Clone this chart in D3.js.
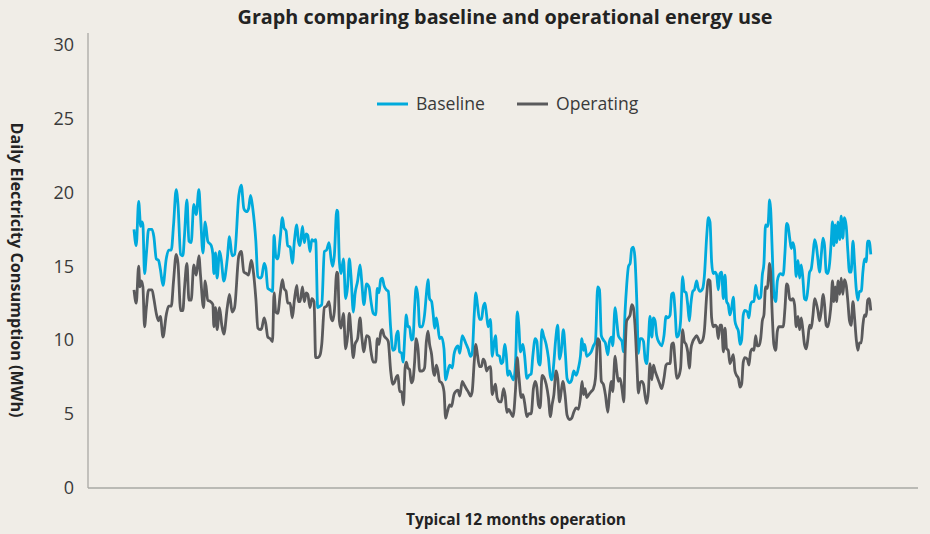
<!DOCTYPE html>
<html>
<head>
<meta charset="utf-8">
<script src="https://cdn.jsdelivr.net/npm/d3@7"></script>
<style>
	html, body { margin: 0; padding: 0; background: #f0ede7; }
	svg { display: block; font-family: "Open Sans", Lato, sans-serif; }
</style>
</head>
<body>
<div id="chart"></div>
<script>
// [day of the 12 months, MWh]
var baseline = [
	[0.0,17.5],[1.1,16.4],[2.3,19.4],[3.3,17.7],[3.9,18.0],[4.4,17.8],[5.2,14.5],[6.2,16.0],[7.2,17.5],[8.9,17.5],[9.8,17.0],[11.0,15.5],[12.1,15.4],[13.0,14.8],[14.3,13.7],[15.9,15.5],[17.1,16.1],[18.4,16.1],[19.5,17.8],[20.8,20.2],[21.7,19.2],[23.0,15.8],[24.1,15.7],[24.9,17.1],[26.1,19.5],[27.1,16.7],[28.2,16.6],[29.5,19.2],[30.7,18.5],[32.0,20.2],[32.8,18.5],[34.0,15.9],[35.1,18.0],[36.4,16.7],[38.1,16.4],[38.9,15.8],[39.4,14.5],[40.2,15.9],[41.0,14.2],[42.2,16.0],[43.0,15.5],[44.3,14.0],[46.0,15.5],[47.1,17.0],[48.4,15.7],[49.6,15.8],[51.7,19.8],[52.9,20.5],[54.2,18.9],[55.5,18.7],[56.5,18.9],[57.5,19.8],[58.6,18.9],
	[60.1,16.7],[61.1,14.3],[62.2,14.2],[63.0,14.3],[64.2,15.2],[65.0,14.9],[66.0,13.5],[67.1,13.4],[68.3,13.3],[69.1,17.1],[69.9,15.7],[70.9,15.5],[72.1,16.9],[73.2,18.3],[74.0,17.6],[75.0,17.4],[75.8,16.4],[77.0,16.3],[78.1,15.2],[79.1,16.7],[80.3,17.8],[81.1,16.7],[81.9,16.4],[83.1,17.7],[84.0,16.6],[84.9,17.2],[85.7,17.1],[86.8,16.0],[87.7,16.8],[88.8,16.7],[89.6,16.8],[90.6,12.2],[91.8,12.3],[92.6,12.4],[93.9,16.0],[95.0,16.1],[96.2,16.6],[97.2,15.5],[98.0,15.0],[98.8,15.7],[100.0,18.8],[100.5,18.7],[101.3,15.3],[102.1,14.5],[103.3,15.5],[104.4,12.8],[105.4,13.7],[106.2,15.5],[107.0,14.4],[108.2,11.9],[109.0,13.1],[110.3,14.0],[111.5,15.1],[112.3,14.0],[113.4,12.4],[114.7,13.8],[115.9,13.6],[116.9,12.6],[118.0,11.8],
	[119.2,11.7],[120.0,13.5],[120.8,13.2],[121.7,14.1],[122.5,14.2],[123.3,13.7],[124.5,13.4],[125.4,13.3],[126.6,10.8],[127.7,9.3],[128.7,9.4],[129.4,10.3],[130.2,10.6],[131.0,9.2],[132.0,9.1],[132.7,8.5],[133.7,10.6],[134.3,11.7],[135.1,10.9],[135.9,10.9],[136.8,10.0],[137.6,10.1],[138.4,12.2],[139.2,13.6],[140.1,12.8],[140.9,10.9],[142.2,10.9],[143.3,11.7],[144.2,13.1],[145.0,14.1],[145.8,12.8],[146.8,12.6],[147.6,11.7],[148.3,10.8],[149.1,11.5],[149.9,10.9],[150.7,10.1],[151.7,10.2],[152.9,9.4],[153.7,7.3],[154.5,7.7],[155.7,8.3],[157.0,8.1],[157.8,9.0],[158.6,9.4],[159.8,9.6],[160.7,9.1],[161.9,10.3],[162.7,10.1],[163.9,9.7],[164.8,9.4],[166.0,8.9],[166.8,9.1],[167.8,11.7],[168.6,13.2],[169.4,12.4],[170.4,11.4],[171.4,11.4],[172.2,12.2],[173.1,12.5],[173.9,11.7],[174.7,10.9],[175.8,11.4],[176.7,8.9],[177.5,9.7],[178.3,10.3],[179.1,9.0],
	[180.3,8.9],[181.1,8.4],[181.9,8.5],[182.8,9.7],[183.6,9.0],[184.4,7.6],[185.2,7.9],[186.0,7.6],[187.2,7.3],[188.2,8.5],[189.0,11.9],[189.8,11.0],[190.6,9.2],[191.8,9.7],[192.6,9.0],[193.8,7.4],[194.8,7.6],[195.9,7.7],[196.7,8.9],[197.9,10.1],[198.7,9.9],[199.5,8.5],[200.3,8.3],[201.2,10.7],[202.0,10.3],[203.3,9.7],[204.4,8.8],[205.3,7.6],[206.1,7.3],[207.1,8.5],[207.9,9.9],[209.0,11.0],[209.9,8.7],[210.7,9.2],[211.8,10.7],[212.8,9.0],[213.6,7.4],[214.8,7.1],[215.9,7.3],[216.9,7.9],[218.1,7.6],[219.2,8.1],[220.2,8.9],[220.9,10.1],[221.7,9.3],[222.3,9.7],[223.3,8.9],[224.3,9.0],[225.5,9.2],[226.6,9.6],[227.6,9.9],[228.7,13.6],[229.6,13.4],[230.5,10.3],[231.5,10.0],[232.5,9.8],[233.7,9.0],[234.5,9.9],[235.5,10.2],[236.1,9.6],[237.3,12.2],[238.1,11.3],[238.9,10.3],[239.7,10.1],[240.7,9.9],[241.4,9.2],
	[242.2,11.9],[243.0,13.7],[243.9,15.0],[244.7,15.2],[245.5,16.2],[246.3,16.3],[247.1,15.5],[248.0,12.6],[248.8,9.1],[249.6,10.1],[250.4,10.1],[251.3,9.9],[252.1,8.7],[252.9,8.4],[253.7,9.9],[254.5,11.6],[255.4,10.2],[256.2,11.5],[257.0,11.3],[257.8,10.3],[259.1,9.8],[260.3,9.6],[261.4,10.3],[262.4,11.6],[263.2,11.5],[264.4,11.7],[265.2,13.1],[266.0,13.2],[266.9,11.9],[267.7,10.2],[268.5,10.3],[269.6,11.3],[270.6,14.3],[271.4,13.3],[272.3,13.2],[273.1,12.4],[273.9,11.3],[274.7,12.5],[275.6,13.3],[276.4,13.4],[277.5,14.0],[278.3,13.5],[279.2,13.3],[280.5,13.5],[281.3,14.3],[282.5,17.1],[283.3,18.3],[284.1,18.0],[284.9,15.3],[285.7,14.5],[286.6,14.6],[287.4,14.4],[288.2,13.4],[289.0,14.5],[289.8,14.6],[290.7,12.8],[291.5,14.4],[292.3,12.6],[293.1,12.4],[293.9,11.7],[294.8,12.2],[295.6,12.9],[296.4,11.3],[297.2,10.9],[298.1,10.6],[298.9,9.7],[299.7,10.0],[300.5,11.7],[301.3,12.0],
	[302.5,11.9],[303.3,11.5],[304.1,12.4],[305.0,12.6],[305.8,12.6],[306.6,13.7],[307.4,13.1],[308.2,12.8],[309.1,12.9],[309.9,14.4],[310.7,15.2],[311.5,17.8],[312.4,17.7],[312.8,17.9],[313.5,19.5],[314.0,18.9],[314.8,16.0],[315.6,13.1],[316.5,12.6],[317.3,14.0],[318.1,14.4],[318.9,14.5],[320.2,14.4],[321.1,16.0],[321.9,17.9],[322.5,17.8],[323.4,16.9],[324.2,16.2],[325.0,16.6],[325.8,16.1],[326.6,14.3],[327.5,15.4],[328.3,14.2],[329.1,15.1],[329.9,14.2],[330.7,12.8],[331.6,12.7],[332.4,13.5],[333.2,14.6],[334.0,14.8],[334.9,15.8],[335.7,16.8],[336.5,16.4],[337.3,15.5],[338.1,14.6],[339.0,15.8],[339.8,16.9],[340.6,16.4],[341.4,14.6],[342.2,14.5],[343.1,15.2],[343.9,16.7],[344.5,18.0],[345.2,16.4],[345.9,17.8],[346.5,16.6],[347.3,18.0],[348.1,16.8],[348.8,18.4],[349.6,16.9],[350.4,18.3],[351.3,17.7],[352.1,16.0],[352.9,14.6],[353.7,14.6],[354.6,16.7],[355.4,15.2],[356.2,13.5],[357.0,12.7],[357.8,13.3],[358.7,13.3],[359.5,14.6],[360.3,15.5],[361.1,15.3],[361.9,16.7],[362.6,16.7],[363.4,15.8]
];

var operating = [
	[0.0,13.4],[1.1,12.5],[2.3,15.0],[2.9,13.6],[3.6,14.0],[4.4,13.6],[5.2,10.9],[6.1,12.2],[7.2,13.4],[8.9,13.4],[9.8,12.8],[11.0,11.8],[12.1,11.3],[13.0,11.6],[14.3,10.2],[15.9,11.7],[17.1,12.3],[18.4,12.3],[19.5,14.0],[20.8,15.8],[21.7,15.2],[23.0,12.0],[24.1,12.0],[24.9,13.5],[26.1,15.2],[27.1,12.7],[28.2,12.7],[29.5,15.1],[30.7,14.4],[32.0,15.7],[32.8,14.4],[34.3,12.2],[35.1,14.0],[36.4,12.7],[37.8,12.6],[38.9,12.4],[39.4,10.9],[40.2,12.2],[41.0,10.7],[42.2,12.2],[43.3,11.0],[44.3,10.4],[46.0,12.2],[47.1,13.1],[48.4,11.9],[49.6,12.2],[51.7,15.7],[52.9,16.0],[54.2,14.6],[55.5,14.5],[56.5,14.4],[57.8,15.4],
	[58.9,14.6],[60.1,12.8],[61.1,10.8],[62.2,10.7],[63.0,10.8],[64.2,11.5],[65.0,11.1],[66.0,10.2],[67.1,10.1],[68.3,9.9],[69.1,13.2],[69.9,11.9],[70.9,11.8],[72.1,13.1],[73.2,14.1],[74.0,13.5],[75.0,13.3],[75.8,12.5],[77.0,12.5],[78.1,11.5],[79.1,12.7],[80.3,13.7],[81.1,12.6],[81.9,12.6],[83.1,13.6],[84.0,12.6],[84.9,13.2],[85.7,13.1],[86.8,12.2],[87.7,12.8],[88.8,12.6],[89.6,8.8],[90.6,8.8],[91.8,9.0],[92.6,9.7],[93.9,12.2],[95.0,12.3],[96.2,12.6],[97.2,11.5],[98.0,11.3],[98.8,11.9],[100.0,14.6],[100.5,14.5],[101.3,11.3],[102.1,10.8],[103.3,11.8],[104.4,9.4],[105.4,10.3],[106.2,11.8],[107.0,10.6],[108.2,8.8],[109.0,9.7],[110.3,10.1],[111.5,11.5],[112.3,10.3],[113.4,9.2],[114.7,10.3],[115.9,10.2],[116.9,9.2],[118.0,8.5],
	[119.2,8.5],[120.0,10.1],[120.8,9.7],[121.7,10.5],[122.5,10.7],[123.3,10.3],[124.5,10.1],[125.4,9.9],[126.6,7.9],[127.7,7.0],[128.7,7.2],[129.4,7.5],[130.2,7.6],[131.0,6.5],[132.0,6.5],[132.9,5.6],[133.7,8.1],[134.3,8.5],[135.1,8.1],[135.9,8.0],[136.8,7.1],[137.6,7.3],[138.4,8.5],[139.2,10.1],[140.1,9.4],[140.9,7.9],[142.2,7.9],[143.3,8.1],[144.2,9.9],[145.0,10.6],[145.8,9.7],[146.8,9.0],[147.6,7.9],[148.3,7.6],[149.1,8.3],[149.9,7.9],[150.7,7.2],[151.7,7.1],[152.9,6.5],[153.7,4.7],[154.5,5.1],[155.7,5.6],[156.6,5.5],[157.8,6.3],[158.6,6.5],[159.8,6.6],[160.7,6.2],[161.9,7.2],[162.7,7.0],[163.9,6.7],[164.8,6.5],[166.0,6.2],[166.8,6.5],[167.8,8.5],[168.6,9.7],[169.4,9.0],[170.4,8.2],[171.4,8.2],[172.2,8.7],[173.1,8.5],[173.9,7.9],[174.7,8.1],[175.8,8.2],[176.7,6.3],[177.5,6.7],[178.3,7.0],[179.1,6.1],
	[180.3,5.8],[181.1,5.8],[182.3,6.7],[183.1,6.2],[183.9,5.1],[184.9,5.3],[185.7,5.1],[186.9,4.8],[188.2,6.7],[189.0,8.8],[189.8,7.6],[191.0,6.1],[191.8,6.3],[192.6,5.8],[193.8,4.8],[194.8,5.0],[195.9,5.0],[197.0,6.7],[197.9,7.2],[198.7,6.8],[199.5,5.6],[200.3,5.4],[201.3,7.6],[202.1,7.5],[203.3,7.0],[204.4,6.1],[205.4,4.8],[206.2,5.6],[207.1,6.3],[208.2,7.9],[209.0,7.4],[209.9,5.8],[210.7,6.5],[211.5,7.2],[212.6,6.3],[213.6,4.9],[214.8,4.6],[215.9,4.7],[216.9,5.1],[218.1,5.4],[219.2,5.3],[220.2,6.1],[221.0,7.2],[221.7,6.3],[222.5,6.7],[223.3,6.1],[224.3,6.3],[225.5,6.5],[226.6,6.7],[227.6,7.4],[228.7,10.1],[229.6,9.9],[230.5,7.2],[231.5,7.0],[232.5,6.3],[233.7,5.1],[234.5,6.3],[235.5,7.2],[236.1,6.5],[237.3,8.9],[238.1,7.9],[238.9,7.2],[239.7,7.4],[240.7,6.7],[241.6,5.8],
	[242.2,9.0],[243.0,11.3],[243.9,11.5],[244.7,11.7],[245.5,12.4],[246.3,12.2],[247.1,11.0],[248.0,8.5],[248.8,6.4],[249.6,7.1],[250.4,7.2],[251.3,7.0],[252.1,6.2],[252.9,5.7],[253.7,6.5],[254.5,8.4],[255.4,7.3],[256.2,8.3],[257.0,7.9],[257.8,7.6],[259.1,7.1],[260.3,6.7],[261.4,7.4],[262.4,8.3],[263.2,8.4],[264.4,8.4],[265.2,9.7],[266.0,9.8],[266.9,8.5],[267.7,7.4],[268.5,7.5],[269.6,8.1],[270.6,10.7],[271.4,9.9],[272.3,9.7],[273.1,9.2],[273.9,8.1],[274.7,9.4],[275.6,9.9],[276.4,10.1],[277.5,10.3],[278.3,10.1],[279.2,9.8],[280.5,10.0],[281.3,10.6],[282.5,13.1],[283.3,14.1],[284.1,14.0],[284.9,11.5],[285.7,10.9],[286.6,11.0],[287.4,10.9],[288.2,10.1],[289.0,11.0],[289.8,11.0],[290.7,9.2],[291.5,10.8],[292.3,9.4],[293.1,9.3],[293.9,8.4],[294.8,8.7],[295.6,9.0],[296.4,7.9],[297.2,7.6],[298.1,7.4],[298.9,6.8],[299.7,7.0],[300.5,8.5],[301.3,8.8],
	[302.5,8.7],[303.3,8.3],[304.1,9.2],[305.0,9.4],[305.8,9.3],[306.6,10.3],[307.4,9.6],[308.2,9.6],[309.1,10.1],[309.9,11.3],[310.7,11.7],[311.5,13.6],[312.4,13.5],[312.8,14.0],[313.5,15.2],[314.0,14.6],[314.8,11.7],[315.6,9.7],[316.5,9.3],[317.3,10.6],[318.1,10.9],[318.9,10.9],[320.2,10.9],[321.1,12.2],[321.9,13.8],[322.5,13.7],[323.4,12.8],[324.2,12.7],[325.0,12.8],[325.8,12.4],[326.6,10.9],[327.5,11.6],[328.3,10.7],[329.1,11.5],[329.9,10.7],[330.7,9.7],[331.6,9.4],[332.4,10.1],[333.2,11.0],[334.0,10.8],[334.9,11.7],[335.7,12.8],[336.5,12.5],[337.3,12.0],[338.1,11.3],[339.0,12.0],[339.8,13.1],[340.6,12.4],[341.4,11.0],[342.2,10.9],[343.1,11.5],[343.9,12.6],[344.5,14.0],[345.2,12.6],[345.9,13.6],[346.5,12.6],[347.3,14.0],[348.1,13.1],[348.8,14.2],[349.6,13.1],[350.4,14.1],[351.3,13.7],[352.1,12.6],[352.9,11.3],[353.7,11.0],[354.6,12.6],[355.4,11.5],[356.2,10.1],[357.0,9.3],[357.8,9.8],[358.7,9.8],[359.5,11.0],[360.3,11.7],[361.1,11.6],[361.9,12.7],[362.6,12.8],[363.4,12.0]
];

var yTicks = [0, 5, 10, 15, 20, 25, 30];
var seriesNames = ['Baseline', 'Operating'];

var chart_fmt = {
	width: 930,
	height: 534,
	left: 88,
	right: 918,
	top: 33,
	bottom: 488,
	clr_bkg: '#f0ede7',
	clr_axis: '#a9a8a4',
	clr_text: '#3a3a3a',
	clr_title: '#232323',
	clr_series: ['#00aadc', '#5a5a5c']
};

function drawchart() {
	var svg = d3.select('#chart').append('svg')
		.attr('width', chart_fmt.width)
		.attr('height', chart_fmt.height)
		.style('background-color', chart_fmt.clr_bkg);

	var xScale = d3.scaleLinear()
		.domain([0, 364])
		.range([134, 872]);
	var yScale = d3.scaleLinear()
		.domain([0, 30])
		.range([487.5, 45]);

	// frame lines
	svg.append('line')
		.attr('x1', chart_fmt.left).attr('x2', chart_fmt.left)
		.attr('y1', chart_fmt.top).attr('y2', chart_fmt.bottom)
		.attr('stroke', chart_fmt.clr_axis).attr('stroke-width', 1.3);
	svg.append('line')
		.attr('x1', chart_fmt.left).attr('x2', chart_fmt.right)
		.attr('y1', chart_fmt.bottom).attr('y2', chart_fmt.bottom)
		.attr('stroke', chart_fmt.clr_axis).attr('stroke-width', 1.3);

	var yAxis = svg.append('g')
		.attr('class', 'y axis')
		.attr('transform', `translate(${chart_fmt.left},0)`)
		.call(d3.axisLeft(yScale).tickValues(yTicks).tickSize(0).tickPadding(14));
	yAxis.select('.domain').remove();
	yAxis.selectAll('text')
		.attr('fill', chart_fmt.clr_text)
		.style('font-size', '18px')
		.style('font-family', '"Open Sans", sans-serif');

	// series
	var line = d3.line()
		.x(function(el) { return xScale(el[0]); })
		.y(function(el) { return yScale(el[1]); })
		.curve(d3.curveMonotoneX);

	[baseline, operating].forEach(function(data, i) {
		svg.append('path')
			.datum(data)
			.attr('d', line)
			.style('stroke', chart_fmt.clr_series[i])
			.style('stroke-width', 2.8)
			.style('stroke-linejoin', 'round')
			.style('fill', 'none');
	});

	// legend
	var legendX = [377, 517];
	seriesNames.forEach(function(name, i) {
		var g = svg.append('g').attr('transform', `translate(${legendX[i]},104)`);
		g.append('line')
			.attr('x1', 0).attr('x2', 31)
			.attr('stroke', chart_fmt.clr_series[i])
			.attr('stroke-width', 3);
		g.append('text')
			.attr('x', 39)
			.attr('y', 6)
			.attr('fill', chart_fmt.clr_text)
			.style('font-size', '17.6px')
			.text(name);
	});

	// titles
	svg.append('text')
		.attr('x', 505)
		.attr('y', 24)
		.attr('text-anchor', 'middle')
		.attr('fill', chart_fmt.clr_title)
		.style('font-size', '19.8px')
		.style('font-weight', 'bold')
		.text('Graph comparing baseline and operational energy use');

	svg.append('text')
		.attr('x', 516)
		.attr('y', 525)
		.attr('text-anchor', 'middle')
		.attr('fill', chart_fmt.clr_title)
		.style('font-size', '15.5px')
		.style('font-weight', 'bold')
		.text('Typical 12 months operation');

	svg.append('text')
		.attr('transform', 'translate(17,270) rotate(90)')
		.attr('text-anchor', 'middle')
		.attr('dominant-baseline', 'central')
		.attr('fill', chart_fmt.clr_title)
		.style('font-size', '16.2px')
		.style('font-weight', 'bold')
		.text('Daily Electricity Consumption (MWh)');
}

drawchart();
</script>
</body>
</html>
